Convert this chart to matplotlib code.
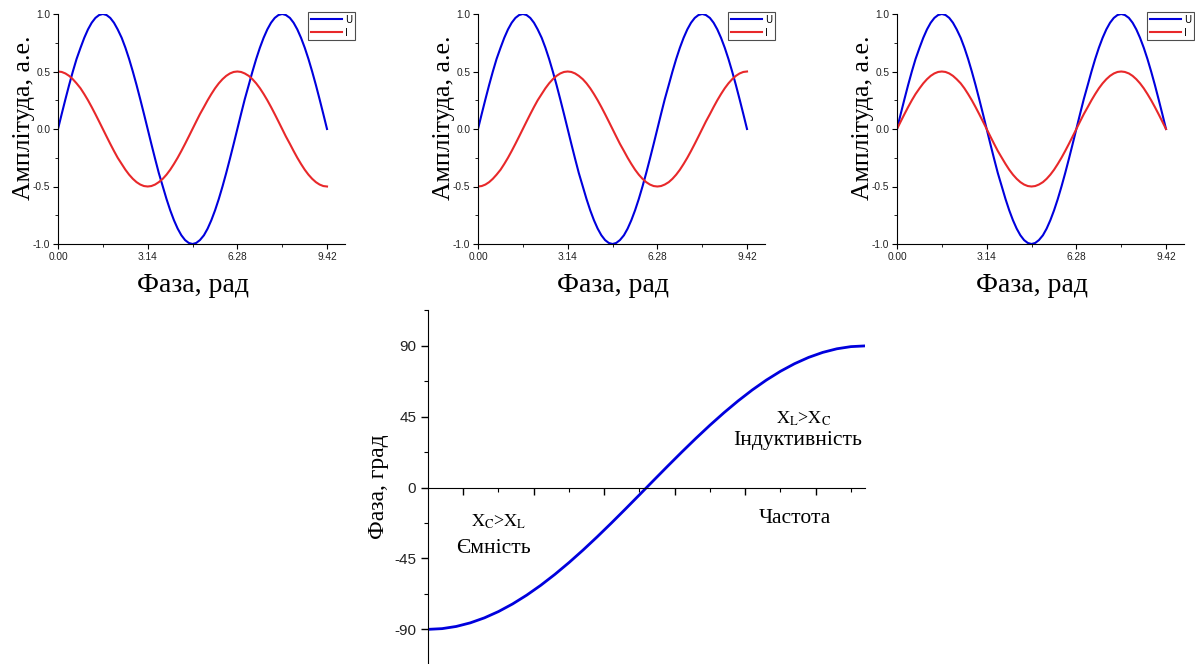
import matplotlib
matplotlib.use('Agg')
import matplotlib.pyplot as plt
from matplotlib.ticker import MultipleLocator, FixedLocator

plt.rcParams['mathtext.fontset'] = 'stix'

# Фаза (рад), крок pi/24
phase = [0.00, 0.13, 0.26, 0.39, 0.52, 0.65, 0.79, 0.92, 1.05, 1.18, 1.31, 1.44, 1.57,
         1.70, 1.83, 1.96, 2.09, 2.23, 2.36, 2.49, 2.62, 2.75, 2.88, 3.01, 3.14,
         3.27, 3.40, 3.53, 3.67, 3.80, 3.93, 4.06, 4.19, 4.32, 4.45, 4.58, 4.71,
         4.84, 4.97, 5.11, 5.24, 5.37, 5.50, 5.63, 5.76, 5.89, 6.02, 6.15, 6.28,
         6.41, 6.54, 6.68, 6.81, 6.94, 7.07, 7.20, 7.33, 7.46, 7.59, 7.72, 7.85,
         7.98, 8.12, 8.25, 8.38, 8.51, 8.64, 8.77, 8.90, 9.03, 9.16, 9.29, 9.42]

u_vals = [0, .131, .259, .383, .5, .609, .707, .793, .866, .924, .966, .991, 1,
          .991, .966, .924, .866, .793, .707, .609, .5, .383, .259, .131, 0,
          -.131, -.259, -.383, -.5, -.609, -.707, -.793, -.866, -.924, -.966, -.991, -1,
          -.991, -.966, -.924, -.866, -.793, -.707, -.609, -.5, -.383, -.259, -.131, 0,
          .131, .259, .383, .5, .609, .707, .793, .866, .924, .966, .991, 1,
          .991, .966, .924, .866, .793, .707, .609, .5, .383, .259, .131, 0]

# струм: ємність (випереджає напругу)
i_cap = [.5, .496, .483, .462, .433, .397, .354, .304, .25, .191, .129, .065, 0,
         -.065, -.129, -.191, -.25, -.304, -.354, -.397, -.433, -.462, -.483, -.496, -.5,
         -.496, -.483, -.462, -.433, -.397, -.354, -.304, -.25, -.191, -.129, -.065, 0,
         .065, .129, .191, .25, .304, .354, .397, .433, .462, .483, .496, .5,
         .496, .483, .462, .433, .397, .354, .304, .25, .191, .129, .065, 0,
         -.065, -.129, -.191, -.25, -.304, -.354, -.397, -.433, -.462, -.483, -.496, -.5]

# струм: індуктивність (відстає)
i_ind = [-.5, -.496, -.483, -.462, -.433, -.397, -.354, -.304, -.25, -.191, -.129, -.065, 0,
         .065, .129, .191, .25, .304, .354, .397, .433, .462, .483, .496, .5,
         .496, .483, .462, .433, .397, .354, .304, .25, .191, .129, .065, 0,
         -.065, -.129, -.191, -.25, -.304, -.354, -.397, -.433, -.462, -.483, -.496, -.5,
         -.496, -.483, -.462, -.433, -.397, -.354, -.304, -.25, -.191, -.129, -.065, 0,
         .065, .129, .191, .25, .304, .354, .397, .433, .462, .483, .496, .5]

# струм: активний опір (у фазі)
i_res = [0, .065, .129, .191, .25, .304, .354, .397, .433, .462, .483, .496, .5,
         .496, .483, .462, .433, .397, .354, .304, .25, .191, .129, .065, 0,
         -.065, -.129, -.191, -.25, -.304, -.354, -.397, -.433, -.462, -.483, -.496, -.5,
         -.496, -.483, -.462, -.433, -.397, -.354, -.304, -.25, -.191, -.129, -.065, 0,
         .065, .129, .191, .25, .304, .354, .397, .433, .462, .483, .496, .5,
         .496, .483, .462, .433, .397, .354, .304, .25, .191, .129, .065, 0]

x_ticks = [0.00, 3.14, 6.28, 9.42]
x_ticklabels = ['0.00', '3.14', '6.28', '9.42']
y_ticks = [-1, -0.5, 0, 0.5, 1]
y_ticklabels = ['-1.0', '-0.5', '0.0', '0.5', '1.0']

# Фазочастотна характеристика
freq = [0.0, 0.4, 0.8, 1.2, 1.6, 2.0, 2.4, 2.8, 3.2, 3.6, 4.0, 4.4, 4.8, 5.2, 5.6, 6.0,
        6.4, 6.8, 7.2, 7.6, 8.0, 8.4, 8.8, 9.2, 9.6, 10.0, 10.4, 10.8, 11.2, 11.6, 12.0, 12.4]
phi = [-90, -89.54, -88.16, -85.87, -82.70, -78.69, -73.87, -68.29, -62.01, -55.09,
       -47.61, -39.64, -31.26, -22.56, -13.63, -4.56, 4.56, 13.63, 22.56, 31.26,
       39.64, 47.61, 55.09, 62.01, 68.29, 73.87, 78.69, 82.70, 85.87, 88.16, 89.54, 90]

BLUE = '#0000dd'
RED = '#e8282a'
SERIF = 'Liberation Serif'
SANS = 'Liberation Sans'
TICK_C = '#222222'

fig = plt.figure(figsize=(11.95, 6.64), dpi=100)

# 1. Три графіки U та I
lefts = [58, 478, 897]
currents = [i_cap, i_ind, i_res]
for left, cur in zip(lefts, currents):
    ax = fig.add_axes([left / 1195, 1 - 244 / 664, 287 / 1195, 230 / 664])
    ax.plot(phase, u_vals, color=BLUE, lw=1.5, label='U')
    ax.plot(phase, cur, color=RED, lw=1.5, label='I')
    ax.set_xlim(0, 10.05)
    ax.set_ylim(-1, 1)
    ax.spines['top'].set_visible(False)
    ax.spines['right'].set_visible(False)
    ax.set_xticks(x_ticks)
    ax.set_xticklabels(x_ticklabels, fontfamily=SANS, fontsize=7.3, color=TICK_C)
    ax.xaxis.set_minor_locator(FixedLocator([1.57, 4.71, 7.85]))
    ax.set_yticks(y_ticks)
    ax.set_yticklabels(y_ticklabels, fontfamily=SANS, fontsize=7.3, color=TICK_C)
    ax.yaxis.set_minor_locator(MultipleLocator(0.25))
    ax.tick_params(which='major', direction='out', length=3.5, width=0.8, pad=2)
    ax.tick_params(which='minor', direction='out', length=2, width=0.6)
    ax.set_xlabel('Фаза, рад', fontfamily=SERIF, fontsize=20)
    ax.xaxis.set_label_coords(0.47, -0.125)
    ax.set_ylabel('Амплітуда, а.е.', fontfamily=SERIF, fontsize=18.5)
    ax.yaxis.set_label_coords(-0.08, 0.55)
    leg = ax.legend(loc='upper right', bbox_to_anchor=(1.035, 1.01), borderaxespad=0,
                    fontsize=7, handlelength=3.2, handletextpad=0.3, borderpad=0.3,
                    labelspacing=0.3, fancybox=False, framealpha=1)
    leg.get_frame().set_edgecolor('0.3')
    leg.get_frame().set_linewidth(0.8)

# 2. Фазочастотна характеристика
ax = fig.add_axes([428 / 1195, 0, 437 / 1195, 354 / 664])
ax.plot(freq, phi, color=BLUE, lw=2)
ax.set_xlim(0, 12.4)
ax.set_ylim(-112, 112.8)
ax.spines['top'].set_visible(False)
ax.spines['right'].set_visible(False)
ax.spines['bottom'].set_position(('data', 0))
ax.set_xticks([1, 3, 5, 7, 9, 11])
ax.set_xticklabels([])
ax.xaxis.set_minor_locator(FixedLocator([2, 4, 6, 8, 10, 12]))
ax.set_yticks([-90, -45, 0, 45, 90])
ax.set_yticklabels(['-90', '-45', '0', '45', '90'], fontfamily=SANS, fontsize=11, color=TICK_C)
ax.yaxis.set_minor_locator(MultipleLocator(22.5))
ax.tick_params(which='major', direction='out', length=5, width=1)
ax.tick_params(which='minor', direction='out', length=3, width=0.8)
ax.set_ylabel('Фаза, град', fontfamily=SERIF, fontsize=17, labelpad=4)

ax.text(2.0, -22, r'$\mathrm{X_C}$>$\mathrm{X_L}$', fontfamily=SERIF, fontsize=13,
        ha='center', va='center')
ax.text(1.87, -38.7, 'Ємність', fontfamily=SERIF, fontsize=15.5, ha='center', va='center')
ax.text(10.67, 43.7, r'$\mathrm{X_L}$>$\mathrm{X_C}$', fontfamily=SERIF, fontsize=13,
        ha='center', va='center')
ax.text(10.5, 29.8, 'Індуктивність', fontfamily=SERIF, fontsize=15.5, ha='center', va='center')
ax.text(10.41, -19.6, 'Частота', fontfamily=SERIF, fontsize=15.5, ha='center', va='center')

fig.savefig('out.png', dpi=100)
